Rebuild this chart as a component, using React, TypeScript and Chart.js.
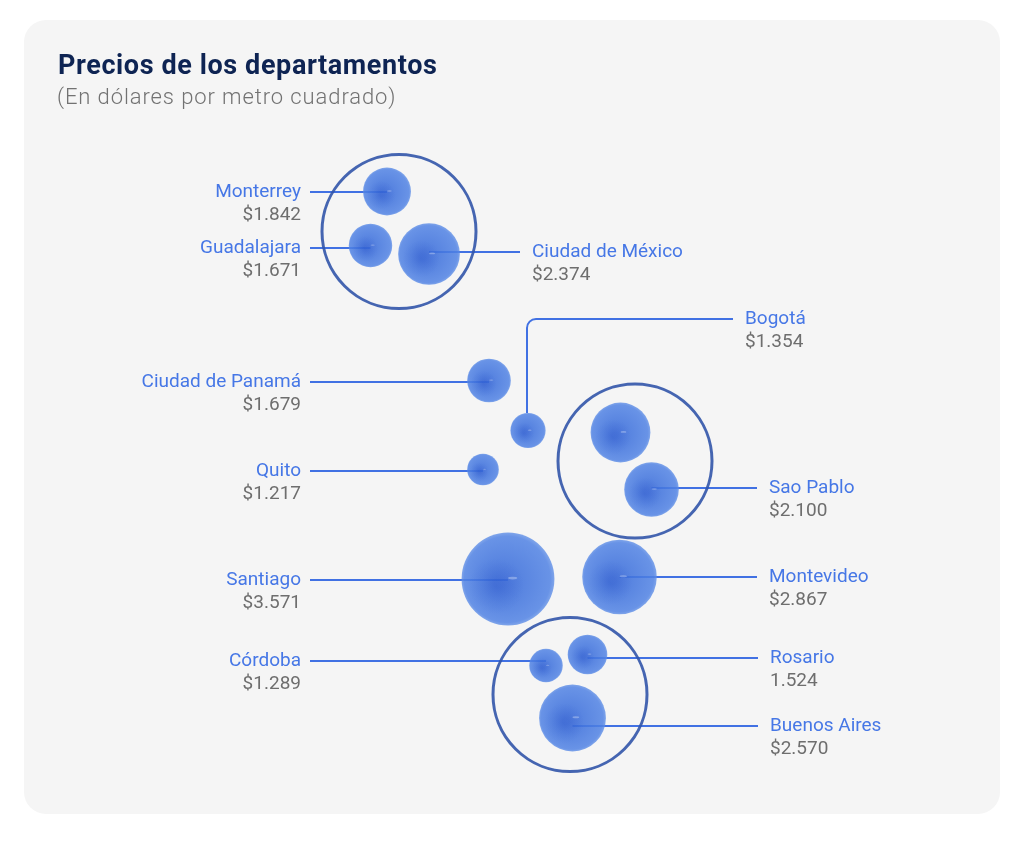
import React, { useEffect, useRef } from "react";
import { Chart, registerables } from "chart.js";

Chart.register(...registerables);

// ---- data ----
const cities = [
  "Monterrey", "Guadalajara", "Ciudad de México", "Bogotá", "Ciudad de Panamá", "Quito",
  "Río de Janeiro", "Sao Pablo", "Santiago", "Montevideo", "Córdoba", "Rosario", "Buenos Aires",
];
const prices = [1842, 1671, 2374, 1354, 1679, 1217, 2300, 2100, 3571, 2867, 1289, 1524, 2570];
const priceLabels = [
  "$1.842", "$1.671", "$2.374", "$1.354", "$1.679", "$1.217",
  "", "$2.100", "$3.571", "$2.867", "$1.289", "1.524", "$2.570",
];
const countries = ["México", "Brasil", "Argentina"];

// ---- layout (chart units) ----
const posX = [387, 370.5, 429, 528, 489, 483, 620.5, 651.5, 508, 619.5, 546, 587.5, 572.5];
const posY = [191.5, 245.5, 254, 430.5, 380.5, 469.5, 432.5, 489.5, 579, 577, 665.5, 654.5, 718];
const labelSide = ["left", "left", "right", "elbow", "left", "left", "none", "right", "left", "right", "left", "right", "right"];
const leaderY = [192, 248, 252, 319, 382, 471, 0, 488, 580, 577, 661, 658, 726];
const leaderEnd = [310, 310, 520, 733, 310, 310, 0, 757, 310, 757, 310, 758, 758];
const countryX = [399, 635, 570];
const countryY = [231.5, 461, 694.5];

const TITLE = "Precios de los departamentos";
const SUBTITLE = "(En dólares por metro cuadrado)";
const RADIUS_PER_USD = 0.013;

const FONT = "Roboto, 'Noto Sans', sans-serif";
const BLUE_TEXT = "#4677e6";
const GRAY_TEXT = "#6e6e6e";
const LINE_BLUE = "rgba(55,105,225,0.95)";
const FLAT_FILL = "rgba(70,120,222,0.88)";

const bubbleFill = (c: any) => {
  const chart = c.chart;
  const raw = c.raw;
  if (!raw || !chart.scales || !chart.scales.x || !chart.scales.y) return FLAT_FILL;
  const x = chart.scales.x.getPixelForValue(raw.x);
  const y = chart.scales.y.getPixelForValue(raw.y);
  const r = raw.r;
  if (!Number.isFinite(x) || !Number.isFinite(y) || !Number.isFinite(r) || r <= 0) return FLAT_FILL;
  const g = chart.ctx.createRadialGradient(x - r * 0.2, y + r * 0.1, r * 0.1, x, y, r);
  g.addColorStop(0, "rgba(58,106,216,0.9)");
  g.addColorStop(0.4, "rgba(68,118,222,0.88)");
  g.addColorStop(0.92, "rgba(80,130,228,0.85)");
  g.addColorStop(1, "rgba(94,142,231,0.78)");
  return g;
};

const decorPlugin = {
  id: "decor",
  beforeDraw(chart: any) {
    const ctx = chart.ctx;
    const xs = chart.scales.x, ys = chart.scales.y;
    const X = (v: number) => xs.getPixelForValue(v);
    const Y = (v: number) => ys.getPixelForValue(v);
    ctx.save();
    const x0 = X(24), y0 = Y(20), x1 = X(1000), y1 = Y(814);
    ctx.fillStyle = "#f5f5f5";
    ctx.beginPath();
    ctx.roundRect(x0, y0, x1 - x0, y1 - y0, 22);
    ctx.fill();
    ctx.textAlign = "left";
    ctx.textBaseline = "alphabetic";
    ctx.fillStyle = "#0e2453";
    ctx.font = `bold 27px ${FONT}`;
    (ctx as any).letterSpacing = "0.6px";
    ctx.fillText(TITLE, X(58), Y(74));
    ctx.fillStyle = "#727272";
    ctx.font = `300 22px ${FONT}`;
    (ctx as any).letterSpacing = "0.9px";
    ctx.fillText(SUBTITLE, X(57), Y(104));
    (ctx as any).letterSpacing = "0px";
    ctx.restore();
  },
  beforeDatasetsDraw(chart: any) {
    const ctx = chart.ctx;
    const xs = chart.scales.x, ys = chart.scales.y;
    const X = (v: number) => xs.getPixelForValue(v);
    const Y = (v: number) => ys.getPixelForValue(v);
    ctx.save();
    ctx.strokeStyle = LINE_BLUE;
    ctx.lineWidth = 2;
    cities.forEach((_, i) => {
      const side = labelSide[i];
      if (side === "none") return;
      ctx.beginPath();
      if (side === "elbow") {
        const r = prices[i] * RADIUS_PER_USD;
        const cx = X(posX[i]) - 1;
        const top = Y(posY[i]) - r;
        const ly = Y(leaderY[i]);
        const rad = 9;
        ctx.moveTo(cx, top);
        ctx.lineTo(cx, ly + rad);
        ctx.arcTo(cx, ly, cx + rad, ly, rad);
        ctx.lineTo(X(leaderEnd[i]), ly);
      } else {
        ctx.moveTo(X(leaderEnd[i]), Y(leaderY[i]));
        ctx.lineTo(X(posX[i]), Y(leaderY[i]));
      }
      ctx.stroke();
    });
    ctx.restore();
  },
  afterDatasetsDraw(chart: any) {
    const ctx = chart.ctx;
    const xs = chart.scales.x, ys = chart.scales.y;
    const X = (v: number) => xs.getPixelForValue(v);
    const Y = (v: number) => ys.getPixelForValue(v);
    ctx.save();
    cities.forEach((_, i) => {
      const r = prices[i] * RADIUS_PER_USD;
      const cx = X(posX[i]), cy = Y(posY[i]);
      const gx = cx - r * 0.25, gy = cy + r * 0.15;
      const g = ctx.createRadialGradient(gx, gy, 0, gx, gy, r * 0.6);
      g.addColorStop(0, "rgba(35,80,198,0.22)");
      g.addColorStop(1, "rgba(35,80,198,0)");
      ctx.fillStyle = g;
      ctx.beginPath();
      ctx.arc(cx, cy, r, 0, Math.PI * 2);
      ctx.fill();
      ctx.fillStyle = "rgba(255,255,255,0.3)";
      ctx.beginPath();
      ctx.ellipse(cx + r * 0.1, cy - r * 0.02, r * 0.1, r * 0.03, 0, 0, Math.PI * 2);
      ctx.fill();
    });
    cities.forEach((name, i) => {
      const side = labelSide[i];
      if (side === "none") return;
      const ly = Y(leaderY[i]);
      let tx: number;
      if (side === "left") {
        ctx.textAlign = "right";
        tx = X(leaderEnd[i]) - 9;
      } else {
        ctx.textAlign = "left";
        tx = X(leaderEnd[i]) + 12;
      }
      ctx.textBaseline = "alphabetic";
      ctx.font = `19px ${FONT}`;
      ctx.fillStyle = BLUE_TEXT;
      ctx.fillText(name, tx, ly + 5);
      ctx.fillStyle = GRAY_TEXT;
      ctx.fillText(priceLabels[i], tx, ly + 28);
    });
    ctx.restore();
  },
};

export default function App() {
  const ref = useRef<HTMLCanvasElement | null>(null);
  useEffect(() => {
    if (!ref.current) return;
    const chart = new Chart(ref.current, {
      type: "bubble",
      data: {
        datasets: [
          {
            label: "Ciudades",
            data: cities.map((_, i) => ({ x: posX[i], y: posY[i], r: prices[i] * RADIUS_PER_USD })),
            backgroundColor: bubbleFill,
            borderWidth: 0,
            order: 1,
          },
          {
            label: "Países",
            data: countries.map((_, i) => ({ x: countryX[i], y: countryY[i], r: 77 })),
            backgroundColor: "rgba(0,0,0,0)",
            borderColor: "rgba(50,85,170,0.9)",
            borderWidth: 3,
            order: 2,
          },
        ],
      },
      options: {
        animation: false,
        responsive: true,
        maintainAspectRatio: false,
        events: [],
        layout: { autoPadding: false, padding: 0 },
        plugins: { legend: { display: false }, tooltip: { enabled: false }, title: { display: false } },
        scales: {
          x: { type: "linear", min: 0, max: 1024, display: false },
          y: { type: "linear", min: 0, max: 841, reverse: true, display: false },
        },
      },
      plugins: [decorPlugin],
    });
    return () => chart.destroy();
  }, []);
  return (
    <div style={{ position: "absolute", left: 0, top: 0, width: 1024, height: 841, background: "#ffffff" }}>
      <canvas ref={ref} />
    </div>
  );
}
